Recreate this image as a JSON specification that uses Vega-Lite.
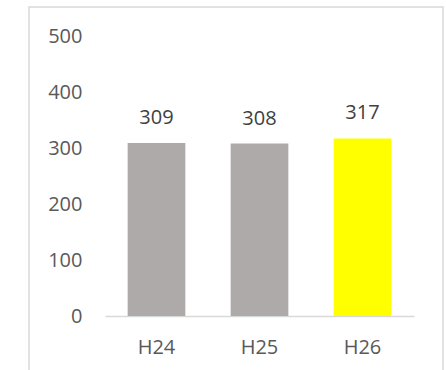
{
  "$schema": "https://vega.github.io/schema/vega-lite/v6.json",
  "autosize": "none",
  "width": 414,
  "height": 367,
  "padding": {"left": 29, "top": 7, "right": 3, "bottom": -4},
  "background": "white",
  "config": {
    "view": {"stroke": "#D9D9D9", "strokeWidth": 1.5},
    "font": "Open Sans"
  },
  "data": {
    "values": [
      {"year": "H24", "value": 309},
      {"year": "H25", "value": 308},
      {"year": "H26", "value": 317}
    ]
  },
  "encoding": {
    "x": {
      "field": "year",
      "type": "nominal",
      "sort": null,
      "scale": {"range": [76, 385], "paddingInner": 0.44, "paddingOuter": 0.22},
      "axis": {
        "title": null,
        "orient": "bottom",
        "offset": -58,
        "labelAngle": 0,
        "ticks": false,
        "tickSize": 0,
        "labelPadding": 31,
        "labelBaseline": "middle",
        "labelFontSize": 20,
        "labelColor": "#595959",
        "labelFont": "Open Sans",
        "domainColor": "#D9D9D9",
        "domainWidth": 1.5
      }
    },
    "y": {
      "field": "value",
      "type": "quantitative",
      "scale": {"domain": [0, 500], "range": [309, 29], "nice": false, "zero": true},
      "axis": {
        "title": null,
        "values": [0, 100, 200, 300, 400, 500],
        "grid": false,
        "domain": false,
        "ticks": false,
        "tickSize": 0,
        "labelPadding": 0,
        "offset": -53,
        "labelFontSize": 20,
        "labelColor": "#595959",
        "labelFont": "Open Sans"
      }
    }
  },
  "layer": [
    {
      "mark": {"type": "bar"},
      "encoding": {
        "color": {
          "field": "year",
          "type": "nominal",
          "scale": {"domain": ["H24", "H25", "H26"], "range": ["#AEAAAA", "#AEAAAA", "#FFFF00"]},
          "legend": null
        }
      }
    },
    {
      "mark": {"type": "text", "baseline": "alphabetic", "dy": -19, "fontSize": 20, "color": "#404040", "font": "Open Sans"},
      "encoding": {"text": {"field": "value", "type": "quantitative"}}
    }
  ]
}
